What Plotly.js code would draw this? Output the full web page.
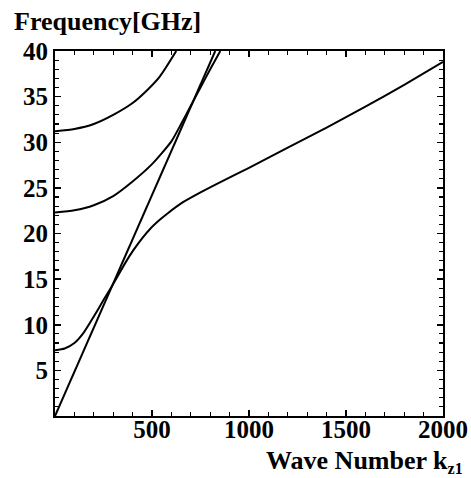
<!DOCTYPE html>
<html>
<head>
<meta charset="utf-8">
<script src="https://cdn.plot.ly/plotly-3.0.1.min.js"></script>
<style>html,body{margin:0;padding:0;background:#fff;}</style>
</head>
<body>
<div id="chart" style="width:471px;height:478px;"></div>
<script>
// light line
var lightK = [0, 826];
var lightF = [0, 40];
// mode 1
var mode1K = [0, 50, 100, 150, 200, 250, 290, 320, 360, 405, 450, 490, 540, 580, 650, 750, 850, 1000, 1200, 1400, 1600, 1800, 2000];
var mode1F = [7.2, 7.4, 8.0, 9.2, 10.9, 12.7, 14.1, 15.2, 16.7, 18.2, 19.5, 20.5, 21.5, 22.2, 23.3, 24.5, 25.6, 27.2, 29.4, 31.6, 33.9, 36.3, 38.8];
// mode 2
var mode2K = [0, 100, 200, 300, 400, 500, 600, 650, 700, 750, 800, 852];
var mode2F = [22.3, 22.55, 23.1, 24.1, 25.7, 27.6, 30.1, 32.0, 34.0, 36.0, 38.0, 40];
// mode 3
var mode3K = [0, 100, 200, 300, 400, 460, 540, 625];
var mode3F = [31.2, 31.45, 32.0, 33.0, 34.3, 35.4, 37.2, 40];

var lineStyle = {color: '#000', width: 2, shape: 'spline', smoothing: 0.6};
function tr(x, y) {
  return {x: x, y: y, type: 'scatter', mode: 'lines', line: lineStyle, hoverinfo: 'skip', showlegend: false};
}
var data = [
  tr(lightK, lightF),
  tr(mode1K, mode1F),
  tr(mode2K, mode2F),
  tr(mode3K, mode3F)
];

var tickFont = {family: 'Liberation Serif, Times New Roman, serif', size: 25, color: '#000', weight: 'bold'};
var titleFont = {family: 'Liberation Serif, Times New Roman, serif', size: 26, color: '#000', weight: 'bold'};

var axisCommon = {
  showgrid: false, zeroline: false, showline: true, linecolor: '#000', linewidth: 2,
  mirror: 'ticks', ticks: 'inside', ticklen: 6, tickwidth: 1.5, tickcolor: '#000',
  tickfont: tickFont, fixedrange: true, labelalias: {'0': ' '}
};

var layout = {
  width: 471, height: 478,
  margin: {l: 55, r: 28, t: 51, b: 62},
  paper_bgcolor: '#fff', plot_bgcolor: '#fff',
  showlegend: false,
  xaxis: Object.assign({}, axisCommon, {
    range: [0, 2000], tickmode: 'linear', tick0: 0, dtick: 500, ticklabelstandoff: -10,
    minor: {ticks: 'inside', ticklen: 4, dtick: 100, tickcolor: '#000', tickwidth: 1.2}
  }),
  yaxis: Object.assign({}, axisCommon, {
    range: [0, 40], tickmode: 'linear', tick0: 0, dtick: 5,
    minor: {ticks: 'inside', ticklen: 4, dtick: 1, tickcolor: '#000', tickwidth: 1.2}
  }),
  annotations: [
    {text: 'Frequency[GHz]', xref: 'paper', yref: 'paper', x: -0.112, y: 1.08,
     xanchor: 'left', yanchor: 'middle', showarrow: false, font: titleFont},
    {text: 'Wave Number k<sub><span style="font-size:16px">z1</span></sub>', xref: 'paper', yref: 'paper', x: 1.055, y: -0.1705,
     xanchor: 'right', yanchor: 'bottom', borderpad: 0, showarrow: false, font: titleFont}
  ]
};

Plotly.newPlot('chart', data, layout, {displayModeBar: false, staticPlot: true});
</script>
</body>
</html>
